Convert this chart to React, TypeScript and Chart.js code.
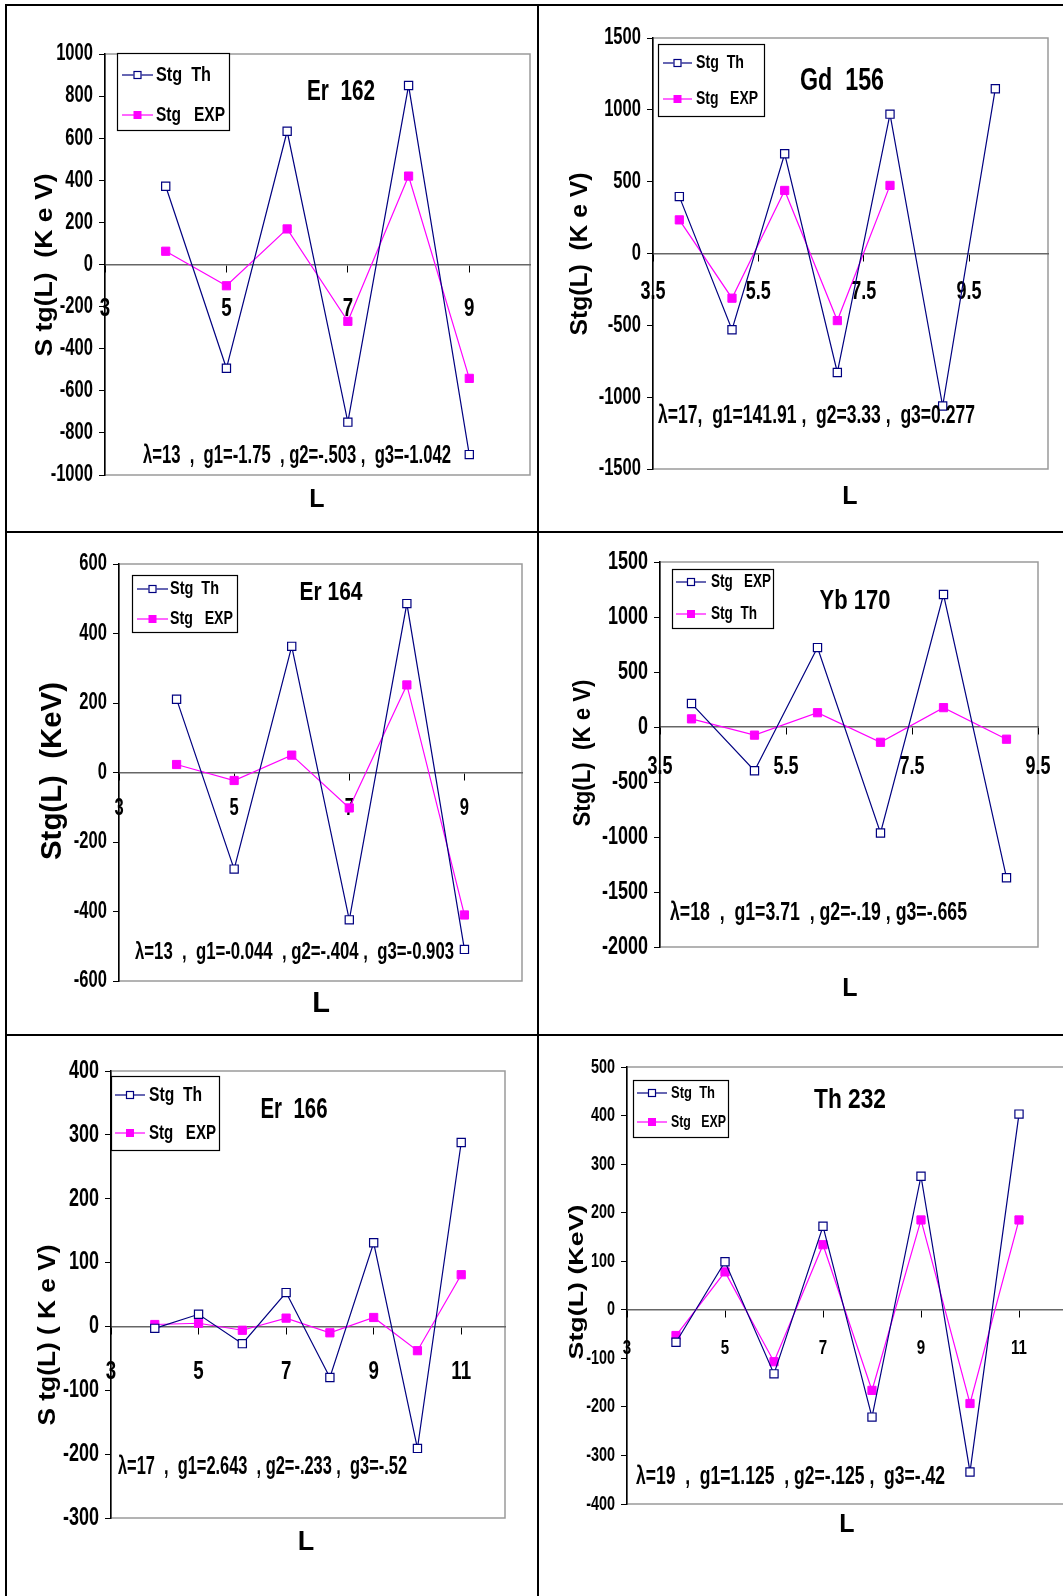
import React, { useEffect, useRef } from "react";
import { Chart, registerables } from "chart.js";
Chart.register(...registerables);

const FONT = "'Liberation Sans Narrow','Arial Narrow','Liberation Sans',Arial,sans-serif";
// tick font: "Narrow72" is a marker family (not installed) telling the draw hook to condense the glyphs to 72 %
const TICK_FONT = "Narrow72,'Liberation Sans',Arial,sans-serif";
const NAVY = "#000080";
const MAGENTA = "#FF00FF";

// ---------------- data ----------------
const er162L = [4, 5, 6, 7, 8, 9];
const er162Th = [372, -493, 633, -749, 850, -903];
const er162Exp = [63, -101, 169, -270, 420, -541];
const er162XTicks = [3, 5, 7, 9];

const gd156ThL = [4, 5, 6, 7, 8, 9, 10];
const gd156Th = [396, -531, 694, -828, 970, -1062, 1147];
const gd156ExpL = [4, 5, 6, 7, 8];
const gd156Exp = [234, -311, 439, -467, 474];
const gd156XTicks = [3.5, 5.5, 7.5, 9.5];

const er164L = [4, 5, 6, 7, 8, 9];
const er164Th = [211, -278, 363, -424, 486, -509];
const er164Exp = [23, -23, 50, -102, 252, -410];
const er164XTicks = [3, 5, 7, 9];

const yb170L = [4, 5, 6, 7, 8, 9];
const yb170Exp = [213, -398, 722, -963, 1204, -1370];
const yb170Th = [74, -74, 130, -139, 176, -111];
const yb170XTicks = [3.5, 5.5, 7.5, 9.5];

const er166L = [4, 5, 6, 7, 8, 9, 10, 11];
const er166Th = [-3, 19, -27, 53, -80, 131, -191, 288];
const er166Exp = [3, 5, -6, 13, -10, 14, -38, 81];
const er166XTicks = [3, 5, 7, 9, 11];

const th232L = [4, 5, 6, 7, 8, 9, 10, 11];
const th232Th = [-67, 99, -132, 172, -221, 275, -334, 403];
const th232Exp = [-53, 78, -107, 134, -166, 185, -193, 185];
const th232XTicks = [3, 5, 7, 9, 11];

// ---------------- panels ----------------
type Txt = { text: string; x: number; y: number; size: number; w?: number; align?: CanvasTextAlign; rot?: boolean };
type PanelCfg = {
  box: { cx: number; cy: number; cw: number; ch: number; L: number; T: number; R: number; B: number };
  s1: { label: string; L: number[]; v: number[] };
  s2: { label: string; L: number[]; v: number[] };
  xMin: number; xMax: number; xTicks: number[];
  yMin: number; yMax: number; yStep: number;
  yFont: number; xFont: number; xPad: number;
  legend: { x: number; y: number; w: number; h: number; rows: number[]; lx0: number; lx1: number; tx: number; size: number; tw: number[] };
  texts: Txt[];
};

const panels: PanelCfg[] = [
  {
    box: { cx: 7, cy: 6, cw: 530, ch: 525, L: 105, T: 54, R: 530, B: 475 },
    s1: { label: "Stg  Th", L: er162L, v: er162Th },
    s2: { label: "Stg   EXP", L: er162L, v: er162Exp },
    xMin: 3, xMax: 10, xTicks: er162XTicks,
    yMin: -1000, yMax: 1000, yStep: 200,
    yFont: 23, xFont: 26, xPad: 22,
    legend: { x: 117, y: 53, w: 112, h: 77, rows: [75, 115], lx0: 122, lx1: 153, tx: 156, size: 21, tw: [55, 69] },
    texts: [
      { text: "Er  162", x: 341, y: 92, size: 29, w: 68, align: "center" },
      { text: "λ=13  ,  g1=-1.75  , g2=-.503 ,  g3=-1.042", x: 143, y: 456, size: 25, w: 308, align: "left" },
      { text: "L", x: 317, y: 500, size: 25, align: "center" },
      { text: "S tg(L)  (K e V)", x: 46, y: 265, size: 23, w: 183, align: "center", rot: true },
    ],
  },
  {
    box: { cx: 539, cy: 6, cw: 540, ch: 525, L: 653, T: 38, R: 1048, B: 469 },
    s1: { label: "Stg  Th", L: gd156ThL, v: gd156Th },
    s2: { label: "Stg   EXP", L: gd156ExpL, v: gd156Exp },
    xMin: 3.5, xMax: 11, xTicks: gd156XTicks,
    yMin: -1500, yMax: 1500, yStep: 500,
    yFont: 23, xFont: 25, xPad: 17,
    legend: { x: 658, y: 44, w: 106, h: 72, rows: [63, 99], lx0: 663, lx1: 692, tx: 696, size: 19, tw: [48, 62] },
    texts: [
      { text: "Gd  156", x: 842, y: 81, size: 31, w: 84, align: "center" },
      { text: "λ=17,  g1=141.91 ,  g2=3.33 ,  g3=0.277", x: 658, y: 416, size: 26, w: 317, align: "left" },
      { text: "L", x: 850, y: 497, size: 25, align: "center" },
      { text: "Stg(L)  (K e V)", x: 581, y: 254, size: 23, w: 163, align: "center", rot: true },
    ],
  },
  {
    box: { cx: 7, cy: 533, cw: 530, ch: 501, L: 119, T: 564, R: 522, B: 981 },
    s1: { label: "Stg  Th", L: er164L, v: er164Th },
    s2: { label: "Stg   EXP", L: er164L, v: er164Exp },
    xMin: 3, xMax: 10, xTicks: er164XTicks,
    yMin: -600, yMax: 600, yStep: 200,
    yFont: 23, xFont: 23, xPad: 15,
    legend: { x: 132, y: 575, w: 105, h: 57, rows: [589, 619], lx0: 137, lx1: 168, tx: 170, size: 18, tw: [49, 63] },
    texts: [
      { text: "Er 164", x: 331, y: 593, size: 26, w: 63, align: "center" },
      { text: "λ=13  ,  g1=-0.044  , g2=-.404 ,  g3=-0.903", x: 135, y: 952, size: 24, w: 319, align: "left" },
      { text: "L", x: 321, y: 1004, size: 29, align: "center" },
      { text: "Stg(L)  (KeV)", x: 53, y: 771, size: 29, w: 178, align: "center", rot: true },
    ],
  },
  {
    box: { cx: 539, cy: 533, cw: 540, ch: 501, L: 660, T: 562, R: 1038, B: 947 },
    s1: { label: "Stg   EXP", L: yb170L, v: yb170Exp },
    s2: { label: "Stg  Th", L: yb170L, v: yb170Th },
    xMin: 3.5, xMax: 9.5, xTicks: yb170XTicks,
    yMin: -2000, yMax: 1500, yStep: 500,
    yFont: 25, xFont: 25, xPad: 18,
    legend: { x: 672, y: 569, w: 101, h: 59, rows: [582, 614], lx0: 676, lx1: 706, tx: 711, size: 18, tw: [60, 46] },
    texts: [
      { text: "Yb 170", x: 855, y: 601, size: 28, w: 71, align: "center" },
      { text: "λ=18  ,  g1=3.71  , g2=-.19 , g3=-.665", x: 670, y: 913, size: 25, w: 297, align: "left" },
      { text: "L", x: 850, y: 989, size: 25, align: "center" },
      { text: "Stg(L)  (K e V)", x: 584, y: 753, size: 23, w: 147, align: "center", rot: true },
    ],
  },
  {
    box: { cx: 7, cy: 1036, cw: 530, ch: 560, L: 111, T: 1071, R: 505, B: 1518 },
    s1: { label: "Stg  Th", L: er166L, v: er166Th },
    s2: { label: "Stg   EXP", L: er166L, v: er166Exp },
    xMin: 3, xMax: 12, xTicks: er166XTicks,
    yMin: -300, yMax: 400, yStep: 100,
    yFont: 25, xFont: 26, xPad: 23,
    legend: { x: 111, y: 1076, w: 108, h: 74, rows: [1095, 1133], lx0: 115, lx1: 145, tx: 149, size: 21, tw: [53, 67] },
    texts: [
      { text: "Er  166", x: 294, y: 1110, size: 29, w: 67, align: "center" },
      { text: "λ=17  ,  g1=2.643  , g2=-.233 ,  g3=-.52", x: 118, y: 1467, size: 25, w: 289, align: "left" },
      { text: "L", x: 306, y: 1543, size: 27, align: "center" },
      { text: "S tg(L) ( K e V)", x: 48, y: 1335, size: 24, w: 181, align: "center", rot: true },
    ],
  },
  {
    box: { cx: 539, cy: 1036, cw: 540, ch: 560, L: 627, T: 1067, R: 1068, B: 1504 },
    s1: { label: "Stg  Th", L: th232L, v: th232Th },
    s2: { label: "Stg   EXP", L: th232L, v: th232Exp },
    xMin: 3, xMax: 12, xTicks: th232XTicks,
    yMin: -400, yMax: 500, yStep: 100,
    yFont: 20, xFont: 21, xPad: 19,
    legend: { x: 633, y: 1080, w: 95, h: 57, rows: [1093, 1122], lx0: 637, lx1: 667, tx: 671, size: 17, tw: [44, 55] },
    texts: [
      { text: "Th 232", x: 850, y: 1100, size: 28, w: 72, align: "center" },
      { text: "λ=19  ,  g1=1.125  , g2=-.125 ,  g3=-.42", x: 636, y: 1477, size: 25, w: 309, align: "left" },
      { text: "L", x: 847, y: 1525, size: 25, align: "center" },
      { text: "Stg(L) (KeV)", x: 577, y: 1282, size: 21, w: 155, align: "center", rot: true },
    ],
  },
];

function drawText(ctx: CanvasRenderingContext2D, t: Txt, ox: number, oy: number) {
  ctx.save();
  ctx.font = `bold ${t.size}px ${FONT}`;
  ctx.fillStyle = "#000";
  ctx.textBaseline = "middle";
  ctx.textAlign = t.align || "left";
  const natural = ctx.measureText(t.text).width;
  const sx = t.w ? t.w / natural : 1;
  ctx.translate(t.x - ox, t.y - oy);
  if (t.rot) ctx.rotate(-Math.PI / 2);
  ctx.scale(sx, 1);
  ctx.fillText(t.text, 0, 0);
  ctx.restore();
}

function drawMarker(ctx: CanvasRenderingContext2D, x: number, y: number, filled: boolean, color: string) {
  const s = 8;
  ctx.save();
  if (filled) {
    ctx.fillStyle = color;
    ctx.fillRect(x - s / 2, y - s / 2, s, s);
  } else {
    ctx.fillStyle = "#fff";
    ctx.fillRect(x - s / 2, y - s / 2, s, s);
    ctx.strokeStyle = color;
    ctx.lineWidth = 1.2;
    ctx.strokeRect(x - s / 2 + 0.5, y - s / 2 + 0.5, s - 1, s - 1);
  }
  ctx.restore();
}

// Condenses text whose font names the "NarrowNN" marker family (emulates a narrow bold face).
const narrowPlugin = {
  id: "narrow",
  beforeDraw(chart: any) {
    const ctx: any = chart.ctx;
    if (ctx.__narrow) return;
    const orig = ctx.fillText.bind(ctx);
    ctx.fillText = (text: string, x: number, y: number, maxWidth?: number) => {
      const m = /Narrow(\d+)/.exec(ctx.font);
      if (m) {
        const sx = Number(m[1]) / 100;
        ctx.save();
        ctx.translate(x, y);
        ctx.scale(sx, 1);
        orig(text, 0, 0);
        ctx.restore();
      } else if (maxWidth !== undefined) {
        orig(text, x, y, maxWidth);
      } else {
        orig(text, x, y);
      }
    };
    ctx.__narrow = true;
  },
};

function Panel({ cfg }: { cfg: PanelCfg }) {
  const ref = useRef<HTMLCanvasElement | null>(null);
  useEffect(() => {
    const b = cfg.box;
    const framePlugin = {
      id: "frame",
      beforeDraw(chart: any) {
        const { ctx, chartArea: a } = chart;
        ctx.save();
        ctx.strokeStyle = "#9a9a9a";
        ctx.lineWidth = 1.5;
        ctx.strokeRect(a.left, a.top, a.right - a.left, a.bottom - a.top);
        ctx.restore();
      },
    };
    const overlayPlugin = {
      id: "overlay",
      afterDraw(chart: any) {
        const ctx: CanvasRenderingContext2D = chart.ctx;
        const ox = b.cx, oy = b.cy;
        const lg = cfg.legend;
        ctx.save();
        ctx.fillStyle = "#fff";
        ctx.fillRect(lg.x - ox, lg.y - oy, lg.w, lg.h);
        ctx.strokeStyle = "#000";
        ctx.lineWidth = 1.2;
        ctx.strokeRect(lg.x - ox + 0.5, lg.y - oy + 0.5, lg.w, lg.h);
        ctx.restore();
        chart.data.datasets.forEach((ds: any, i: number) => {
          const y = lg.rows[i] - oy;
          ctx.save();
          ctx.strokeStyle = ds.borderColor;
          ctx.lineWidth = 1.2;
          ctx.beginPath();
          ctx.moveTo(lg.lx0 - ox, y);
          ctx.lineTo(lg.lx1 - ox, y);
          ctx.stroke();
          ctx.restore();
          drawMarker(ctx, (lg.lx0 + lg.lx1) / 2 - ox, y, ds.pointBackgroundColor !== "#ffffff", ds.borderColor);
          drawText(ctx, { text: ds.label, x: lg.tx, y: lg.rows[i], size: lg.size, w: lg.tw[i], align: "left" }, ox, oy);
        });
        cfg.texts.forEach((t) => drawText(ctx, t, ox, oy));
      },
    };
    const chart = new Chart(ref.current as HTMLCanvasElement, {
      type: "line",
      data: {
        datasets: [
          {
            label: cfg.s1.label,
            data: cfg.s1.L.map((x, i) => ({ x, y: cfg.s1.v[i] })),
            borderColor: NAVY,
            borderWidth: 1.2,
            pointStyle: "rect",
            pointRadius: 5.8,
            pointBorderWidth: 1.2,
            pointBorderColor: NAVY,
            pointBackgroundColor: "#ffffff",
            tension: 0,
          },
          {
            label: cfg.s2.label,
            data: cfg.s2.L.map((x, i) => ({ x, y: cfg.s2.v[i] })),
            borderColor: MAGENTA,
            borderWidth: 1.2,
            pointStyle: "rect",
            pointRadius: 5.8,
            pointBorderWidth: 1,
            pointBorderColor: MAGENTA,
            pointBackgroundColor: MAGENTA,
            tension: 0,
          },
        ],
      },
      options: {
        responsive: false,
        animation: false,
        devicePixelRatio: 1,
        layout: {
          padding: { left: 0, top: b.T - b.cy, right: b.cx + b.cw - b.R, bottom: b.cy + b.ch - b.B },
        },
        plugins: { legend: { display: false }, tooltip: { enabled: false }, title: { display: false } },
        scales: {
          x: {
            type: "linear",
            position: { y: 0 } as any,
            min: cfg.xMin,
            max: cfg.xMax,
            afterBuildTicks: (s: any) => {
              s.ticks = cfg.xTicks.map((v) => ({ value: v }));
            },
            afterFit: (s: any) => {
              s.height = 0;
            },
            grid: { drawOnChartArea: false, drawTicks: true, tickLength: 7, color: "#000", lineWidth: 1 },
            border: { display: true, color: "#666", width: 1.5 },
            ticks: {
              autoSkip: false,
              maxRotation: 0,
              padding: cfg.xPad,
              color: "#000",
              font: { family: TICK_FONT, size: cfg.xFont, weight: "bold" },
              callback: (v: any) => String(v),
            },
          },
          y: {
            type: "linear",
            position: "left",
            min: cfg.yMin,
            max: cfg.yMax,
            afterFit: (s: any) => {
              s.width = b.L - b.cx;
            },
            grid: { drawOnChartArea: false, drawTicks: true, tickLength: 6, color: "#000", lineWidth: 1 },
            border: { display: true, color: "#000", width: 1.5 },
            ticks: {
              stepSize: cfg.yStep,
              padding: 6,
              color: "#000",
              font: { family: TICK_FONT, size: cfg.yFont, weight: "bold" },
              callback: (v: any) => String(v),
            },
          },
        },
      },
      plugins: [narrowPlugin, framePlugin, overlayPlugin],
    } as any);
    return () => chart.destroy();
  }, [cfg]);
  const b = cfg.box;
  return (
    <canvas
      ref={ref}
      width={b.cw}
      height={b.ch}
      style={{ position: "absolute", left: b.cx, top: b.cy, width: b.cw, height: b.ch }}
    />
  );
}

export default function App() {
  const line = (l: number, t: number, w: number, h: number) => (
    <div style={{ position: "absolute", left: l, top: t, width: w, height: h, background: "#000", zIndex: 2 }} />
  );
  return (
    <div
      style={{
        position: "absolute",
        left: 0,
        top: 0,
        width: 1063,
        height: 1596,
        overflow: "hidden",
        background: "#fff",
      }}
    >
      {panels.map((p, i) => (
        <Panel key={i} cfg={p} />
      ))}
      {line(5, 4, 1058, 2)}
      {line(5, 4, 2, 1592)}
      {line(537, 4, 2, 1592)}
      {line(5, 531, 1058, 2)}
      {line(5, 1034, 1058, 2)}
    </div>
  );
}
